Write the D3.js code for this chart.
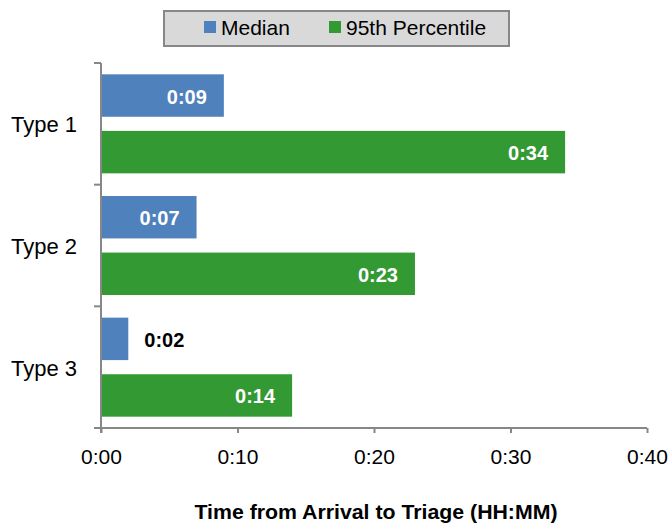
<!DOCTYPE html>
<html>
<head>
<meta charset="utf-8">
<script src="https://cdn.jsdelivr.net/npm/d3@7/dist/d3.min.js"></script>
<style>
  html, body { margin: 0; padding: 0; background: #fff; }
  svg { display: block; font-family: "Liberation Sans", Arial, sans-serif; }
</style>
</head>
<body>
<svg id="chart" width="670" height="523"></svg>
<script>
// Arrival-to-triage times, in minutes
const categories = ["Type 1", "Type 2", "Type 3"];
const seriesNames = ["Median", "95th Percentile"];
const medianMinutes = [9, 7, 2];
const p95Minutes = [34, 23, 14];
const xTicks = [0, 10, 20, 30, 40];
const seriesColors = ["#4f81bd", "#339933"];

const svg = d3.select("#chart");
const margin = { left: 101, right: 23, top: 63, bottom: 95 };
const W = 670, H = 523;

const x = d3.scaleLinear().domain([0, 40]).range([margin.left, W - margin.right]);
const y = d3.scaleBand().domain(categories).range([margin.top, H - margin.bottom]);
const inner = d3.scaleBand().domain(seriesNames).range([0, y.bandwidth()])
  .paddingInner(0.25).paddingOuter(0.2);

const fmt = m => Math.floor(m / 60) + ":" + String(m % 60).padStart(2, "0");

const rows = [];
categories.forEach((c, i) => {
  rows.push({ cat: c, series: seriesNames[0], value: medianMinutes[i], color: seriesColors[0] });
  rows.push({ cat: c, series: seriesNames[1], value: p95Minutes[i], color: seriesColors[1] });
});

// Bars
svg.append("g").selectAll("rect").data(rows).join("rect")
  .attr("x", x(0))
  .attr("y", d => y(d.cat) + inner(d.series))
  .attr("width", d => x(d.value) - x(0))
  .attr("height", inner.bandwidth())
  .attr("fill", d => d.color);

// Value labels: inside the bar end when they fit, otherwise just past it
svg.append("g").selectAll("text").data(rows).join("text")
  .each(function (d) {
    const w = x(d.value) - x(0);
    const t = d3.select(this);
    const cy = y(d.cat) + inner(d.series) + inner.bandwidth() / 2;
    t.attr("y", cy + 8)
      .attr("font-size", 20).attr("font-weight", "bold")
      .text(fmt(d.value));
    if (w > 60) {
      t.attr("x", x(d.value) - 17).attr("text-anchor", "end").attr("fill", "#fff");
    } else {
      t.attr("x", x(d.value) + 16).attr("text-anchor", "start").attr("fill", "#000");
    }
  });

// X axis
const xAxis = svg.append("g")
  .attr("transform", `translate(0,${H - margin.bottom})`)
  .call(d3.axisBottom(x).tickValues(xTicks).tickFormat(fmt).tickSize(5).tickSizeOuter(0).tickPadding(0));
xAxis.select(".domain").attr("stroke", "#878787").attr("stroke-width", 2)
  .attr("d", `M${x(0) - 7},0H${x(40)}`);
xAxis.selectAll(".tick line").attr("stroke", "#878787").attr("stroke-width", 2);
xAxis.selectAll(".tick text").attr("font-size", 21).attr("fill", "#000")
  .attr("font-family", "'Liberation Sans', Arial, sans-serif")
  .attr("y", 36).attr("dy", null);

// Y axis
const yAxis = svg.append("g").attr("transform", `translate(${margin.left},0)`);
yAxis.append("line")
  .attr("x1", 0).attr("x2", 0).attr("y1", y.range()[0]).attr("y2", y.range()[1] + 5)
  .attr("stroke", "#878787").attr("stroke-width", 2);
const bounds = categories.map(c => y(c)).concat([y.range()[1]]);
yAxis.selectAll("line.tk").data(bounds).join("line").attr("class", "tk")
  .attr("x1", -7).attr("x2", 0).attr("y1", d => d).attr("y2", d => d)
  .attr("stroke", "#878787").attr("stroke-width", 2);
yAxis.selectAll("text").data(categories).join("text")
  .attr("x", -24).attr("y", d => y(d) + y.bandwidth() / 2 + 8.5)
  .attr("text-anchor", "end")
  .attr("font-size", 22).attr("fill", "#000")
  .text(d => d);

// Axis title
svg.append("text")
  .attr("x", 376).attr("y", 519).attr("text-anchor", "middle")
  .attr("font-size", 20).attr("font-weight", "bold").attr("fill", "#000")
  .attr("textLength", 363).attr("lengthAdjust", "spacingAndGlyphs")
  .text("Time from Arrival to Triage (HH:MM)");

// Legend
const legend = svg.append("g");
legend.append("rect")
  .attr("x", 164).attr("y", 11).attr("width", 345).attr("height", 35)
  .attr("fill", "#d9d9d9").attr("stroke", "#878787").attr("stroke-width", 2);
const legendX = [204, 329];
seriesNames.forEach((s, i) => {
  legend.append("rect")
    .attr("x", legendX[i]).attr("y", 21).attr("width", 12).attr("height", 12)
    .attr("fill", seriesColors[i]);
  legend.append("text")
    .attr("x", legendX[i] + 17).attr("y", 35)
    .attr("font-size", 21).attr("fill", "#000")
    .text(s);
});
</script>
</body>
</html>
